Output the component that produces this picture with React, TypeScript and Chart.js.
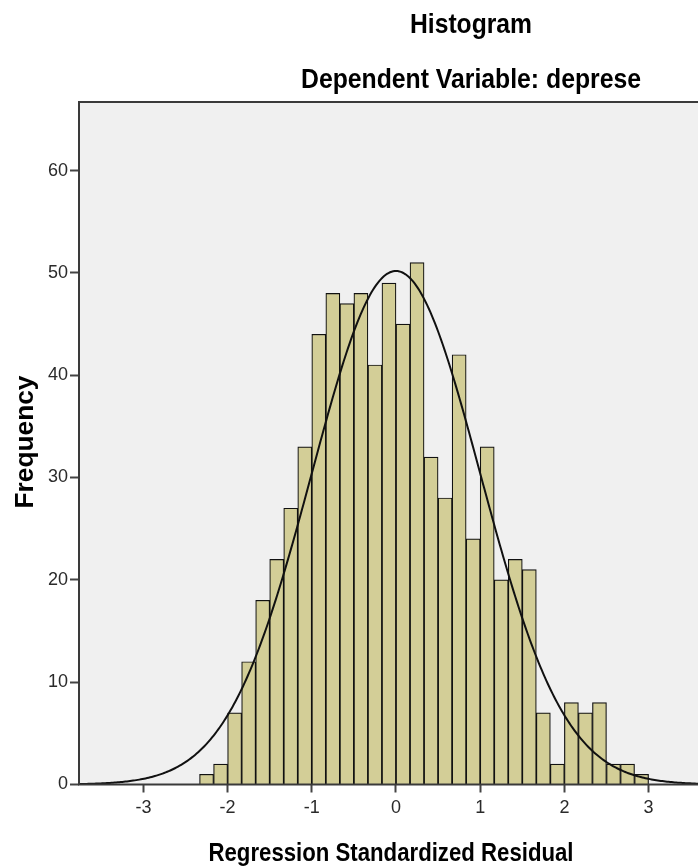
import React, { useEffect, useRef } from "react";
import { Chart, registerables } from "chart.js";

Chart.register(...registerables);

// ---- data ----
const TITLE = "Histogram";
const SUBTITLE = "Dependent Variable: deprese";
const X_TITLE = "Regression Standardized Residual";
const Y_TITLE = "Frequency";

const BIN_WIDTH = 1 / 6;
const FIRST_BIN_START = -14 / 6;
const COUNTS = [
  1, 2, 7, 12, 18, 22, 27, 33, 44, 48, 47, 48, 41, 49, 45, 51,
  32, 28, 42, 24, 33, 20, 22, 21, 7, 2, 8, 7, 8, 2, 2, 1,
];
const X_TICKS = [-3, -2, -1, 0, 1, 2, 3];
const Y_TICKS = [0, 10, 20, 30, 40, 50, 60];
const X_MIN = -3.765;
const X_MAX = 3.587;
const Y_MAX = 66.7;

// normal curve parameters (fitted by SPSS)
const MEAN = 0;
const STD_DEV = 0.999;
const N = COUNTS.reduce((a, b) => a + b, 0);

// ---- styles ----
const BAR_FILL = "#D3CE97";
const BAR_BORDER = "#111111";
const PLOT_BG = "#F0F0F0";
const FRAME = "#3a3a3a";
const FONT = '"Liberation Sans", Arial, sans-serif';

function textFit(
  ctx: CanvasRenderingContext2D,
  text: string,
  x: number,
  y: number,
  size: number,
  width: number,
  rotate = false
) {
  ctx.save();
  ctx.font = `bold ${size}px ${FONT}`;
  const w = ctx.measureText(text).width;
  ctx.translate(x, y);
  if (rotate) ctx.rotate(-Math.PI / 2);
  ctx.scale(width / w, 1);
  ctx.fillStyle = "#000";
  ctx.textAlign = "center";
  ctx.textBaseline = "alphabetic";
  ctx.fillText(text, 0, 0);
  ctx.restore();
}

const decor = {
  id: "decor",
  beforeDraw(chart: any) {
    const { ctx, chartArea } = chart;
    const { left, top, right, bottom } = chartArea;
    ctx.save();
    ctx.fillStyle = PLOT_BG;
    ctx.fillRect(left, top, right - left, bottom - top);
    ctx.restore();
  },
  afterDatasetsDraw(chart: any) {
    const { ctx, chartArea } = chart;
    const { left, top, right, bottom } = chartArea;
    ctx.save();
    ctx.strokeStyle = FRAME;
    ctx.lineWidth = 2;
    ctx.beginPath();
    ctx.moveTo(right + 2, top);
    ctx.lineTo(left, top);
    ctx.lineTo(left, bottom);
    ctx.lineTo(right + 2, bottom);
    ctx.stroke();
    ctx.restore();
  },
  afterDraw(chart: any) {
    const { ctx } = chart;
    textFit(ctx, TITLE, 471, 33, 27, 122);
    textFit(ctx, SUBTITLE, 471, 88, 27, 340);
    textFit(ctx, X_TITLE, 391, 861, 25, 365);
    textFit(ctx, Y_TITLE, 33, 442, 25, 133, true);
  },
};

export default function App() {
  const ref = useRef<HTMLCanvasElement>(null);

  useEffect(() => {
    if (!ref.current) return;
    const bars = COUNTS.map((c, i) => ({
      x: FIRST_BIN_START + (i + 0.5) * BIN_WIDTH,
      y: c,
    }));
    const curve: { x: number; y: number }[] = [];
    const steps = 400;
    for (let i = 0; i <= steps; i++) {
      const x = X_MIN + ((X_MAX - X_MIN) * i) / steps;
      const z = (x - MEAN) / STD_DEV;
      const y =
        (N * BIN_WIDTH * Math.exp(-0.5 * z * z)) /
        (STD_DEV * Math.sqrt(2 * Math.PI));
      curve.push({ x, y });
    }

    const chart = new Chart(ref.current, {
      type: "bar",
      data: {
        datasets: [
          {
            type: "line",
            data: curve,
            borderColor: "#111",
            borderWidth: 2,
            pointRadius: 0,
            tension: 0,
            fill: false,
            order: 0,
          } as any,
          {
            type: "bar",
            data: bars,
            backgroundColor: BAR_FILL,
            borderColor: BAR_BORDER,
            borderWidth: 1.2,
            barPercentage: 1,
            categoryPercentage: 1,
            grouped: false,
            order: 1,
          } as any,
        ],
      },
      options: {
        responsive: false,
        animation: false,
        layout: { padding: { top: 102, left: 0, right: 0, bottom: 0 } },
        plugins: {
          legend: { display: false },
          tooltip: { enabled: false },
          title: { display: false },
        },
        scales: {
          x: {
            type: "linear",
            min: X_MIN,
            max: X_MAX,
            offset: false,
            border: { display: false },
            grid: {
              display: true,
              offset: false,
              drawOnChartArea: false,
              drawTicks: true,
              tickLength: 8,
              tickWidth: 2,
              tickColor: "#444",
            },
            ticks: {
              color: "#2a2a2a",
              font: { family: FONT, size: 18 },
              padding: 5,
              maxRotation: 0,
              autoSkip: false,
              callback: (v: any) => String(v),
            },
            afterBuildTicks: (s: any) => {
              s.ticks = X_TICKS.map((v) => ({ value: v }));
            },
            afterFit: (s: any) => {
              s.height = 866 - 784.5;
            },
          },
          y: {
            type: "linear",
            min: 0,
            max: Y_MAX,
            border: { display: false },
            grid: {
              display: true,
              offset: false,
              drawOnChartArea: false,
              drawTicks: true,
              tickLength: 9,
              tickWidth: 2,
              tickColor: "#444",
            },
            ticks: {
              color: "#2a2a2a",
              font: { family: FONT, size: 18 },
              padding: 2,
              autoSkip: false,
              callback: (v: any) => String(v),
            },
            afterBuildTicks: (s: any) => {
              s.ticks = Y_TICKS.map((v) => ({ value: v }));
            },
            afterFit: (s: any) => {
              s.width = 79;
            },
          },
        },
      },
      plugins: [decor],
    });
    return () => chart.destroy();
  }, []);

  return (
    <div style={{ position: "absolute", left: 0, top: 0, width: 698, height: 866, background: "#fff" }}>
      <canvas ref={ref} width={698} height={866} style={{ display: "block" }} />
    </div>
  );
}
